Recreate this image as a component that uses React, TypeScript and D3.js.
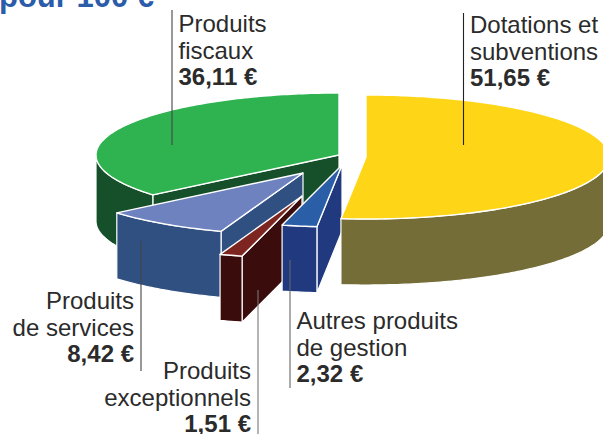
import React from "react";
import * as d3 from "d3";

// Data (in euros, for 100 €)
const categories = ["Dotations et subventions", "Autres produits de gestion", "Produits exceptionnels", "Produits de services", "Produits fiscaux"];
const values = [51.65, 2.32, 1.51, 8.42, 36.11];
const valueLabels = ["51,65 €", "2,32 €", "1,51 €", "8,42 €", "36,11 €"];
const title = "pour 100 €";

// Styles and layout, separate from the data
const topColors = ["#fed617", "#2a5fa8", "#7d2520", "#6d82bf", "#2fb350"];
const sideColors = ["#756d38", "#213a7f", "#3a0c0b", "#2f5081", "#15502a"];
const apexX = [366, 342, 302, 303, 339];
const apexY = [157, 165, 196, 173, 155];
const drawOrder = [4, 3, 2, 1, 0];
const RX = 243;
const RY = 62;
const DEPTH = 66;

const labelLines = [
  { i: 0, x: 470, y: 33, anchor: "start", lines: ["Dotations et", "subventions"] },
  { i: 4, x: 178.5, y: 32, anchor: "start", lines: ["Produits", "fiscaux"] },
  { i: 3, x: 134, y: 309, anchor: "end", lines: ["Produits", "de services"] },
  { i: 2, x: 251, y: 379, anchor: "end", lines: ["Produits", "exceptionnels"] },
  { i: 1, x: 296.5, y: 329, anchor: "start", lines: ["Autres produits", "de gestion"] },
];
const leaders = [
  { x: 463.5, y1: 13, y2: 145, c: "#222" },
  { x: 172, y1: 10, y2: 145, c: "#444" },
  { x: 141, y1: 241, y2: 371, c: "#444" },
  { x: 258, y1: 290, y2: 434, c: "#777" },
  { x: 290, y1: 260, y2: 388, c: "#666" },
];

const slices = d3.pie<number>().sort(null).value((d) => d)(values);
const pt = (i: number, a: number, dy = 0): [number, number] => [
  apexX[i] + RX * Math.sin(a),
  apexY[i] - RY * Math.cos(a) + dy,
];
const samples = (a0: number, a1: number) => {
  const n = Math.max(2, Math.ceil(Math.abs(a1 - a0) * 60));
  return d3.range(n + 1).map((k) => a0 + ((a1 - a0) * k) / n);
};
const line = d3.line();

function topPath(i: number) {
  const s = slices[i];
  const pts = samples(s.startAngle, s.endAngle).map((a) => pt(i, a));
  return line([[apexX[i], apexY[i]], ...pts]) + "Z";
}
function frontPath(i: number) {
  const s = slices[i];
  const a0 = Math.max(s.startAngle, Math.PI / 2);
  const a1 = Math.min(s.endAngle, (3 * Math.PI) / 2);
  if (a1 <= a0) return null;
  const t = samples(a0, a1);
  return line([...t.map((a) => pt(i, a)), ...t.reverse().map((a) => pt(i, a, DEPTH))]) + "Z";
}
function wallPath(i: number) {
  const a = slices[i].startAngle;
  return (
    line([
      [apexX[i], apexY[i]],
      pt(i, a),
      pt(i, a, DEPTH),
      [apexX[i], apexY[i] + DEPTH],
    ]) + "Z"
  );
}

export default function App() {
  return (
    <svg
      width={603}
      height={434}
      viewBox="0 0 603 434"
      style={{ position: "absolute", left: 0, top: 0, background: "#fff" }}
      fontFamily="'Liberation Sans', Arial, sans-serif"
    >
      <text x={-1} y={7} fontSize={31} fontWeight={700} fill="#2a5caa">{title}</text>
      {drawOrder.map((i) => (
        <g key={i} strokeLinejoin="round">
          {i !== 0 && <path d={wallPath(i)} fill={sideColors[i]} stroke="#fff" strokeWidth={1.2} />}
          <path d={frontPath(i) ?? ""} fill={sideColors[i]} stroke="#fff" strokeWidth={1.2} />
          <path d={topPath(i)} fill={topColors[i]} stroke="#fff" strokeWidth={1.4} />
        </g>
      ))}
      {leaders.map((l, k) => (
        <line key={k} x1={l.x} x2={l.x} y1={l.y1} y2={l.y2} stroke={l.c} strokeWidth={1.1} />
      ))}
      {labelLines.map((l) => (
        <text key={l.i} x={l.x} y={l.y} textAnchor={l.anchor as any} fontSize={24} fill="#2b2b2b">
          {l.lines.map((t, k) => (
            <tspan key={k} x={l.x} y={l.y + k * 27}>{t}</tspan>
          ))}
          <tspan x={l.x} y={l.y + 53} fontWeight={700}>{valueLabels[l.i]}</tspan>
        </text>
      ))}
      <title>{categories.join(", ")}</title>
    </svg>
  );
}
